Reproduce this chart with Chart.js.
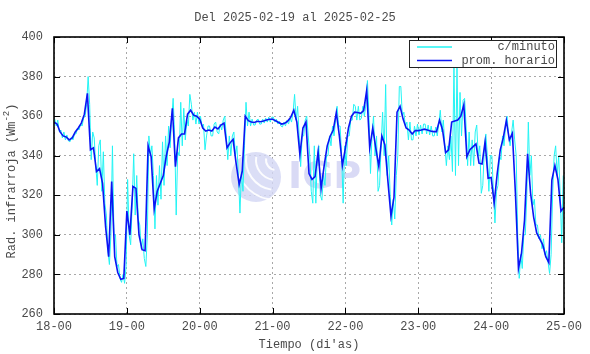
<!DOCTYPE html>
<html>
<head>
<meta charset="utf-8">
<script src="https://cdn.jsdelivr.net/npm/chart.js@4.4.1/dist/chart.umd.min.js"></script>
<style>
  html, body { margin: 0; padding: 0; background: #fff; }
</style>
</head>
<body>
<canvas id="radChart" width="590" height="354"></canvas>
<script>
// Textos
const tituloTexto = 'Del 2025-02-19 al 2025-02-25';
const etiquetasDias = ['18-00', '19-00', '20-00', '21-00', '22-00', '23-00', '24-00', '25-00'];
const nombreMinuto = 'c/minuto';
const nombreHorario = 'prom. horario';

// Promedio horario (Wm-2), una hora por valor desde 18-00
const promHorario = [
  357, 356, 352, 350, 349.5, 348, 349, 352, 354, 356.5, 361, 371.5,
  343, 344, 332, 333.5, 326, 304, 289, 327, 289, 281, 277.5, 278,
  312, 300, 324.5, 323.5, 300, 292.5, 292, 345, 339.5, 313, 322, 326,
  330, 340, 347, 364, 334.5, 349, 351, 351, 361, 363, 360.5, 360,
  358.5, 354, 352.5, 353, 352.5, 354.5, 353.5, 355.5, 356.5, 344, 346.5, 348.3,
  336, 325.5, 332, 360, 357.7, 357, 356.8, 357.4, 357.2, 357.5, 358, 358.4,
  358.4, 357.7, 356.8, 356, 356.4, 357.5, 359.5, 363, 357, 340.5, 354, 357,
  331, 328, 329.4, 342, 323.5, 335, 345, 350, 353, 361.8, 350, 335,
  344, 354, 360, 362, 361.8, 361.4, 362.8, 373, 344, 354, 344, 334.5,
  350, 345.5, 327, 309.5, 319, 362, 365, 358.5, 354, 353, 351, 352.7,
  352.7, 353, 353.4, 353, 352.5, 352.2, 352.2, 358, 353, 341.6, 343, 357,
  357.5, 358, 360, 365.7, 339.5, 343, 344.5, 346, 336.2, 335.8, 347, 328.6,
  329, 316, 331, 343, 349, 357.7, 348, 351.3, 321, 283, 290.7, 307.5,
  341, 321, 309, 301, 298, 295, 289, 286, 327.7, 335, 328, 312,
  314
];

// Datos por minuto: minimo y maximo dentro de cada hora
const minutoMin = [
  355, 352, 349, 348, 347.5, 347, 348, 351, 353, 355, 360, 366,
  338, 335, 325, 322, 316, 292, 285, 300, 284, 278, 276, 275.5,
  300, 295, 310, 308, 293, 288, 284, 340, 330, 303, 315, 318,
  325, 335, 344, 350, 310, 340, 345, 348, 355, 358, 356, 356,
  355, 343, 350, 350, 350, 352, 351, 353, 350, 338, 340, 340,
  330, 311, 322, 355, 355, 355.5, 355.5, 356, 356, 356.5, 357, 357,
  357, 356, 355, 354.5, 355, 356, 357, 358, 350, 334.5, 350, 350,
  322, 316, 316, 320, 317.5, 325, 340, 345, 350, 355, 340, 316,
  335, 350, 358, 358, 358, 359, 360, 360, 331, 340, 322, 325,
  340, 330, 320, 305, 308, 340, 360, 355, 348, 348, 348, 350,
  350.5, 351, 351, 350.5, 350, 350, 350, 352, 345, 335, 338, 332,
  330, 335, 350, 355, 335, 335, 335, 340, 321, 325, 340, 322,
  322, 306, 325, 338, 345, 350, 345, 348, 300, 278, 283, 300,
  330, 315, 305, 298, 293, 290, 286, 280.5, 320, 330, 320, 296
];
const minutoMax = [
  358.5, 358, 353, 352, 350.5, 349.5, 351, 354, 356, 359, 366, 380,
  352, 349, 345, 348, 342, 310, 300, 345, 300, 285, 280, 284,
  328, 315, 341, 330, 305, 298, 300, 350, 345, 330, 335, 347,
  350, 355, 358, 369, 342, 367, 364, 358, 371, 366, 362, 362,
  360, 356, 355, 355, 356, 357, 356, 358, 360, 350, 350, 352,
  345, 332, 345, 367, 362, 358.5, 358, 358.5, 358.5, 359, 359.5, 359.5,
  359.5, 358.5, 357.5, 357, 358, 359, 362, 371, 365, 350, 358, 360,
  340, 345, 340, 345, 330, 340, 350, 355, 358, 365, 355, 345,
  350, 358, 366, 365, 365, 365, 366, 378, 350, 360, 350, 345,
  362, 376, 340, 318, 330, 375, 375, 362, 357, 357, 355, 356,
  355.5, 356, 356, 355.5, 355, 354.5, 356, 363, 358, 345, 350, 385,
  385, 372, 368, 369, 352, 348, 352, 355.5, 345, 343, 351, 340,
  340, 322, 340, 350, 355, 360, 352, 358, 340, 290, 300, 320,
  357, 340, 318, 305, 300, 298, 292, 290, 340, 345, 340, 330
];

const fuente = "'Liberation Mono', 'DejaVu Sans Mono', monospace";
const colorTexto = '#4a4a4a';
const colorMinuto = '#22f4f4';
const colorHorario = '#0b14f5';

// Serie horaria como puntos {x: hora, y: valor}
const puntosHorario = promHorario.map((v, h) => ({ x: h, y: v }));

// Serie por minuto: min y max de cada hora, en el orden que sigue la tendencia
const puntosMinuto = [];
minutoMin.forEach((lo, h) => {
    const hi = minutoMax[h];
    const sube = promHorario[h + 1] >= promHorario[h];
    puntosMinuto.push({ x: h + 0.25, y: sube ? lo : hi });
    puntosMinuto.push({ x: h + 0.75, y: sube ? hi : lo });
});

// Marca de agua IGP
const marcaAgua = {
    id: 'marcaAgua',
    beforeDatasetsDraw(chart) {
        const ctx = chart.ctx;
        ctx.save();
        ctx.fillStyle = 'rgba(210, 214, 244, 0.8)';
        ctx.beginPath();
        ctx.arc(256, 177, 25, 0, Math.PI * 2);
        ctx.fill();
        ctx.strokeStyle = 'rgba(255, 255, 255, 0.9)';
        ctx.lineWidth = 2;
        for (let r = 10; r <= 40; r += 10) {
            ctx.beginPath();
            ctx.arc(276, 160, r, Math.PI * 0.55, Math.PI * 1.05);
            ctx.stroke();
        }
        ctx.fillStyle = 'rgba(204, 206, 242, 0.75)';
        ctx.font = "bold 38px 'DejaVu Sans', sans-serif";
        ctx.textBaseline = 'middle';
        ctx.textAlign = 'left';
        ctx.fillText('IGP', 288, 178);
        ctx.restore();
    }
};

// Marco, marcas hacia adentro, titulos y leyenda
const marcoYTextos = {
    id: 'marcoYTextos',
    afterDatasetsDraw(chart) {
        const { ctx, chartArea: a, scales } = chart;
        ctx.save();
        ctx.strokeStyle = '#000';
        ctx.lineWidth = 1;
        scales.x.ticks.forEach(t => {
            const px = Math.round(scales.x.getPixelForValue(t.value)) + 0.5;
            ctx.beginPath();
            ctx.moveTo(px, a.bottom); ctx.lineTo(px, a.bottom - 6);
            ctx.moveTo(px, a.top); ctx.lineTo(px, a.top + 6);
            ctx.stroke();
        });
        scales.y.ticks.forEach(t => {
            const py = Math.round(scales.y.getPixelForValue(t.value)) + 0.5;
            ctx.beginPath();
            ctx.moveTo(a.left, py); ctx.lineTo(a.left + 6, py);
            ctx.moveTo(a.right, py); ctx.lineTo(a.right - 6, py);
            ctx.stroke();
        });
        ctx.lineWidth = 1.6;
        ctx.strokeRect(a.left, a.top, a.right - a.left, a.bottom - a.top);
        ctx.restore();
    },
    afterDraw(chart) {
        const ctx = chart.ctx;
        ctx.save();
        ctx.fillStyle = colorTexto;
        ctx.font = '12px ' + fuente;
        ctx.textAlign = 'center';
        ctx.textBaseline = 'middle';
        ctx.fillText(tituloTexto, 295, 18);

        // titulo del eje y con superindice
        const base = 'Rad. infrarroja (Wm';
        const sup = '-2';
        const fin = ')';
        ctx.translate(12, 181);
        ctx.rotate(-Math.PI / 2);
        ctx.textAlign = 'left';
        const wBase = ctx.measureText(base).width;
        const wFin = ctx.measureText(fin).width;
        ctx.font = '9px ' + fuente;
        const wSup = ctx.measureText(sup).width;
        const x0 = -(wBase + wSup + wFin) / 2;
        ctx.font = '12px ' + fuente;
        ctx.fillText(base, x0, 0);
        ctx.font = '9px ' + fuente;
        ctx.fillText(sup, x0 + wBase, -5);
        ctx.font = '12px ' + fuente;
        ctx.fillText(fin, x0 + wBase + wSup, 0);
        ctx.restore();

        // leyenda
        ctx.save();
        ctx.fillStyle = '#fff';
        ctx.fillRect(409.5, 40.5, 147, 27);
        ctx.strokeStyle = '#222';
        ctx.lineWidth = 1;
        ctx.strokeRect(409.5, 40.5, 147, 27);
        const filas = [
            { texto: chart.data.datasets[1].label, color: colorMinuto, y: 47, w: 1.3 },
            { texto: chart.data.datasets[0].label, color: colorHorario, y: 60.5, w: 1.5 }
        ];
        filas.forEach(f => {
            ctx.strokeStyle = f.color;
            ctx.lineWidth = f.w;
            ctx.beginPath();
            ctx.moveTo(417, f.y); ctx.lineTo(452, f.y);
            ctx.stroke();
            ctx.fillStyle = colorTexto;
            ctx.font = '12px ' + fuente;
            ctx.textAlign = 'right';
            ctx.textBaseline = 'middle';
            ctx.fillText(f.texto, 555, f.y);
        });
        ctx.restore();
    }
};

const ctx = document.getElementById('radChart').getContext('2d');
new Chart(ctx, {
    type: 'line',
    data: {
        datasets: [{
            label: nombreHorario,
            data: puntosHorario,
            borderColor: colorHorario,
            borderWidth: 1.6,
            order: 0
        }, {
            label: nombreMinuto,
            data: puntosMinuto,
            borderColor: colorMinuto,
            borderWidth: 1,
            order: 1
        }]
    },
    options: {
        responsive: false,
        animation: false,
        devicePixelRatio: 1,
        layout: { padding: { top: 37, right: 26, left: 0, bottom: 0 } },
        elements: { point: { radius: 0 }, line: { tension: 0 } },
        plugins: {
            legend: { display: false },
            title: { display: false },
            tooltip: { enabled: false }
        },
        scales: {
            x: {
                type: 'linear',
                min: 0,
                max: 168,
                ticks: {
                    stepSize: 24,
                    autoSkip: false,
                    maxRotation: 0,
                    padding: 6,
                    color: colorTexto,
                    font: { family: fuente, size: 12 },
                    callback: v => etiquetasDias[v / 24]
                },
                grid: { color: '#a8a8a8', drawTicks: false, lineWidth: 1 },
                border: { display: false, dash: [2, 3] },
                title: {
                    display: true,
                    text: "Tiempo (di'as)",
                    color: colorTexto,
                    font: { family: fuente, size: 12 },
                    padding: { top: 2, bottom: 2 }
                },
                afterFit: s => { s.height = 40; }
            },
            y: {
                min: 260,
                max: 400,
                ticks: {
                    stepSize: 20,
                    padding: 11,
                    color: colorTexto,
                    font: { family: fuente, size: 12 }
                },
                grid: { color: '#a8a8a8', drawTicks: false, lineWidth: 1 },
                border: { display: false, dash: [2, 3] },
                afterFit: s => { s.width = 54; }
            }
        }
    },
    plugins: [marcaAgua, marcoYTextos]
});
</script>
</body>
</html>
